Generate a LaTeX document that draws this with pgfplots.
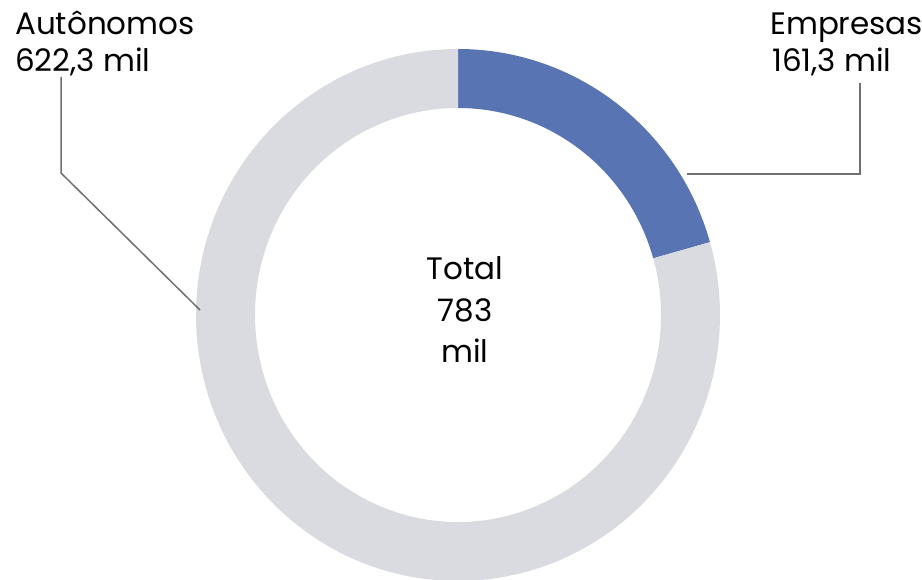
\documentclass[border=0pt]{standalone}
\usepackage{pgfplots}
\usepackage{pgfplotstable}
\pgfplotsset{compat=1.18}
\usepackage{fontspec}
\setmainfont{Poppins}
\definecolor{segblue}{RGB}{88,116,178}
\definecolor{seggray}{RGB}{217,219,224}
\definecolor{leader}{RGB}{112,112,112}
\pgfplotstableread{
label value
Empresas 161.3
Autonomos 622.3
}\donutdata
\begin{document}
\begin{tikzpicture}
\pgfplotstablegetelem{0}{value}\of\donutdata \let\vE\pgfplotsretval
\pgfplotstablegetelem{1}{value}\of\donutdata \let\vA\pgfplotsretval
\pgfmathsetmacro\total{\vE+\vA}
\pgfmathsetmacro\frac{\vE/\total}
\pgfmathsetmacro\angE{90-360*\frac}
\pgfmathsetmacro\angEi{\angE+180}
\pgfmathsetmacro\angF{\angE+360}
\begin{axis}[scale only axis, width=922pt, height=579pt,
  xmin=0, xmax=922, ymin=0, ymax=579, axis lines=none, clip=false]
% Empresas segment (clockwise from top)
\fill[segblue] (axis cs:458,264) ++(0pt,266pt)
  arc[start angle=90, end angle=\angE, x radius=262pt, y radius=266pt]
  -- ++(\angEi:59pt)
  arc[start angle=\angE, end angle=90, x radius=203pt, y radius=207pt] -- cycle;
% Autonomos segment (counter-clockwise from top)
\fill[seggray] (axis cs:458,264) ++(0pt,266pt)
  arc[start angle=90, end angle=\angF, x radius=262pt, y radius=266pt]
  -- ++(\angEi:59pt)
  arc[start angle=\angF, end angle=90, x radius=203pt, y radius=207pt] -- cycle;
% leader lines
\draw[leader, line width=1.5pt] (axis cs:860,496) -- (axis cs:860,405) -- (axis cs:687,405);
\draw[leader, line width=1.5pt] (axis cs:61,502) -- (axis cs:61,406) -- (axis cs:200,269);
% labels
\node[anchor=base west, inner sep=0pt, font=\fontsize{31}{37}\selectfont] at (axis cs:15,544) {Autônomos};
\node[anchor=base west, inner sep=0pt, font=\fontsize{31}{37}\selectfont] at (axis cs:15,507) {622,3 mil};
\node[anchor=base west, inner sep=0pt, font=\fontsize{31}{37}\selectfont] at (axis cs:770,544) {Empresas};
\node[anchor=base west, inner sep=0pt, font=\fontsize{31}{37}\selectfont] at (axis cs:772,507) {161,3 mil};
\node[anchor=base, inner sep=0pt, font=\fontsize{31}{42}\selectfont] at (axis cs:465,299) {Total};
\node[anchor=base, inner sep=0pt, font=\fontsize{31}{42}\selectfont] at (axis cs:465,257) {783};
\node[anchor=base, inner sep=0pt, font=\fontsize{31}{42}\selectfont] at (axis cs:465,216) {mil};
\end{axis}
\pgfresetboundingbox
\path[use as bounding box] (current axis.south west) rectangle (current axis.north east);
\end{tikzpicture}
\end{document}
